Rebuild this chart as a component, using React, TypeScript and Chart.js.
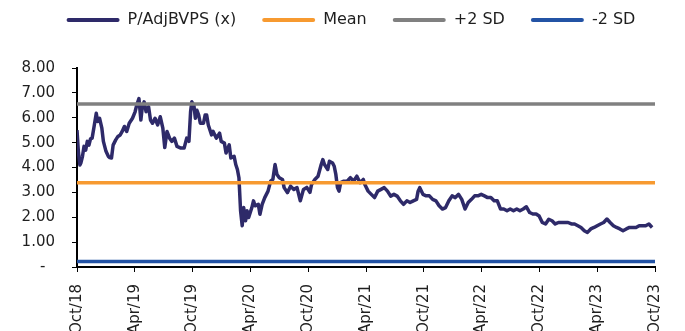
import React, { useEffect, useRef } from "react";
import { Chart, registerables } from "chart.js";

Chart.register(...registerables);

// x positions: months since Oct/18
const monthOffsets: number[] = [
  0, 0.15, 0.3, 0.4, 0.57, 0.73, 0.9, 1.07, 1.24, 1.4, 1.57, 1.8, 2.0, 2.14, 2.34, 2.58, 2.74, 3.01, 3.25, 3.4, 3.58, 3.75, 4.02, 4.25, 4.49, 4.69, 4.92, 5.16, 5.42, 5.76, 6.03, 6.2, 6.43, 6.63, 6.76, 6.97, 7.17, 7.43, 7.63, 7.84, 8.1, 8.37, 8.64, 8.91, 9.11, 9.34, 9.61, 9.85, 10.11, 10.38, 10.78, 11.12, 11.39, 11.62, 11.79, 11.92,
  12.13, 12.29, 12.45, 12.63, 12.8, 13.13, 13.3, 13.46, 13.63, 13.97, 14.13, 14.47, 14.8, 14.97, 15.3, 15.47, 15.8, 15.97, 16.31, 16.48, 16.65, 16.81, 16.88, 16.98, 17.15, 17.3, 17.5, 17.65, 17.82, 18.15, 18.32, 18.49, 18.82, 18.99, 19.22, 19.49, 19.83, 20.1, 20.33, 20.56, 20.76, 21.0, 21.33, 21.5, 21.84, 22.17, 22.51, 22.84, 23.18, 23.51, 23.85,
  24.18, 24.35, 24.69, 25.02, 25.35, 25.52, 25.69, 26.03, 26.2, 26.53, 26.7, 26.87, 27.04, 27.2, 27.37, 27.7, 28.04, 28.38, 28.71, 29.05, 29.38, 29.72, 29.88, 30.22, 30.55, 30.89, 31.22, 31.56, 31.89, 32.23, 32.56, 32.9, 33.23, 33.57, 33.9, 34.24, 34.57, 34.91, 35.25, 35.41, 35.58, 35.91,
  36.25, 36.58, 36.92, 37.26, 37.59, 37.93, 38.26, 38.6, 38.94, 39.27, 39.61, 39.94, 40.28, 40.61, 40.95, 41.28, 41.62, 41.96, 42.29, 42.63, 42.96, 43.3, 43.63, 43.97, 44.3, 44.64, 44.97, 45.31, 45.65, 45.98, 46.32, 46.65, 46.99, 47.32, 47.66,
  47.97, 48.3, 48.64, 48.97, 49.31, 49.64, 49.98, 50.31, 50.65, 50.98, 51.32, 51.65, 51.99, 52.32, 52.66, 52.99, 53.33, 53.67, 54.0, 54.34, 54.67, 55.01, 55.34, 55.68, 56.01, 56.35, 56.68, 57.02, 57.35, 57.69, 58.03, 58.36, 58.7, 59.03, 59.37, 59.7,
];

const pbValues: number[] = [
  5.5, 4.6, 4.1, 4.18, 4.45, 4.85, 4.7, 5.05, 4.9, 5.15, 5.18, 5.71, 6.18, 5.85, 5.98, 5.58, 5.05, 4.65, 4.45, 4.4, 4.38, 4.9, 5.11, 5.25, 5.31, 5.45, 5.65, 5.45, 5.78, 5.98, 6.24, 6.51, 6.77, 5.91, 6.37, 6.64, 6.24, 6.44, 5.91, 5.78, 5.98, 5.71, 6.04, 5.58, 4.8, 5.45, 5.18, 5.05, 5.18, 4.85, 4.78, 4.78, 5.18, 5.05, 6.24, 6.64,
  6.51, 5.98, 6.3, 6.11, 5.78, 5.78, 6.11, 6.11, 5.71, 5.31, 5.45, 5.18, 5.38, 5.05, 4.98, 4.58, 4.91, 4.38, 4.45, 4.12, 3.92, 3.59, 3.05, 2.26, 1.66, 2.39, 1.86, 2.26, 1.99, 2.39, 2.66, 2.46, 2.52, 2.12, 2.52, 2.79, 3.05, 3.45, 3.52, 4.12, 3.72, 3.59, 3.52, 3.19, 2.99, 3.25, 3.12, 3.19, 2.66, 3.12, 3.2,
  3.0, 3.32, 3.52, 3.65, 4.12, 4.32, 4.12, 3.92, 4.25, 4.18, 4.05, 3.72, 3.19, 3.05, 3.39, 3.45, 3.45, 3.59, 3.45, 3.65, 3.39, 3.52, 3.32, 3.05, 2.92, 2.79, 3.05, 3.12, 3.19, 3.05, 2.85, 2.92, 2.85, 2.66, 2.52, 2.66, 2.59, 2.66, 2.72, 3.05, 3.19, 2.92,
  2.86, 2.86, 2.72, 2.66, 2.46, 2.33, 2.39, 2.66, 2.86, 2.79, 2.92, 2.72, 2.33, 2.59, 2.72, 2.86, 2.86, 2.92, 2.86, 2.79, 2.79, 2.66, 2.66, 2.33, 2.33, 2.26, 2.33, 2.26, 2.33, 2.26, 2.33, 2.42, 2.19, 2.13, 2.13,
  2.05, 1.79, 1.73, 1.92, 1.86, 1.73, 1.79, 1.79, 1.79, 1.79, 1.73, 1.73, 1.66, 1.59, 1.46, 1.39, 1.53, 1.59, 1.66, 1.73, 1.79, 1.93, 1.79, 1.66, 1.59, 1.53, 1.46, 1.53, 1.59, 1.59, 1.59, 1.66, 1.66, 1.66, 1.73, 1.59,
];

const seriesNames: string[] = ["P/AdjBVPS (x)", "Mean", "+2 SD", "-2 SD"];
const bandValues: number[] = [3.39, 6.55, 0.22]; // Mean, +2 SD, -2 SD
const bandSpan: number[] = [0, 60];
const tickLabels: string[] = [
  "Oct/18", "Apr/19", "Oct/19", "Apr/20", "Oct/20", "Apr/21",
  "Oct/21", "Apr/22", "Oct/22", "Apr/23", "Oct/23",
];
const yTicks: number[] = [0, 1, 2, 3, 4, 5, 6, 7, 8];

const COLORS = ["#2e2a69", "#f79a30", "#808080", "#2353a5"];
const FONT = "'DejaVu Sans', Verdana, sans-serif";
const TEXT = "#1f1f1f";

export default function App() {
  const ref = useRef<HTMLCanvasElement | null>(null);

  useEffect(() => {
    document.body.style.margin = "0";
    document.documentElement.style.overflow = "hidden";
    const canvas = ref.current;
    if (!canvas) return;

    const mainData = monthOffsets.map((m, i) => ({ x: m, y: pbValues[i] }));
    const bandDatasets = bandValues.map((v, i) => ({
      label: seriesNames[i + 1],
      data: bandSpan.map((m) => ({ x: m, y: v })),
      borderColor: COLORS[i + 1],
      backgroundColor: COLORS[i + 1],
      borderWidth: 3.5,
      pointRadius: 0,
      borderCapStyle: "round" as const,
      order: 0,
    }));

    const legendSpacing = {
      id: "legendSpacing",
      beforeInit(chart: any) {
        const lg = chart.legend;
        if (!lg) return;
        const origFit = lg.fit;
        lg.fit = function () {
          origFit.call(this);
          this.height += 30;
        };
        const origDraw = lg.draw;
        lg.draw = function (...args: any[]) {
          this.ctx.save();
          this.ctx.translate(14, 0);
          origDraw.apply(this, args);
          this.ctx.restore();
        };
      },
    };

    const chart = new Chart(canvas, {
      type: "line",
      data: {
        datasets: [
          {
            label: seriesNames[0],
            data: mainData,
            borderColor: COLORS[0],
            backgroundColor: COLORS[0],
            borderWidth: 3.5,
            pointRadius: 0,
            tension: 0,
            borderJoinStyle: "round",
            order: 1,
          },
          ...bandDatasets,
        ],
      },
      options: {
        animation: false,
        responsive: false,
        devicePixelRatio: 1,
        parsing: false as any,
        layout: { padding: { top: -14, left: 0, right: 11, bottom: 0 } },
        plugins: {
          tooltip: { enabled: false },
          legend: {
            position: "top",
            labels: {
              font: { family: FONT, size: 16 },
              color: TEXT,
              boxWidth: 53,
              boxHeight: 4,
              padding: 26,
              sort: (a: any, b: any) => a.datasetIndex - b.datasetIndex,
              generateLabels: (ch: any) =>
                ch.data.datasets.map((ds: any, i: number) => ({
                  text: ds.label,
                  fillStyle: ds.borderColor,
                  strokeStyle: ds.borderColor,
                  lineWidth: 0,
                  hidden: false,
                  datasetIndex: i,
                  fontColor: TEXT,
                  borderRadius: 2,
                })),
            },
          },
        },
        scales: {
          x: {
            type: "linear",
            min: 0,
            max: 60,
            afterBuildTicks: (s: any) => {
              s.ticks = tickLabels.map((_, i) => ({ value: i * 6 }));
            },
            afterFit: (s: any) => {
              s.height = 93;
            },
            ticks: {
              autoSkip: false,
              maxRotation: 90,
              minRotation: 90,
              padding: 12,
              color: TEXT,
              font: { family: FONT, size: 15 },
              callback: (v: any) => tickLabels[Math.round(Number(v) / 6)] ?? "",
            },
            grid: {
              display: true,
              drawOnChartArea: false,
              drawTicks: true,
              tickLength: 5,
              color: "#000",
              tickColor: "#000",
              lineWidth: 1,
            },
            border: { display: true, color: "#000", width: 2 },
          },
          y: {
            type: "linear",
            min: 0,
            max: 8,
            afterBuildTicks: (s: any) => {
              s.ticks = yTicks.map((v) => ({ value: v }));
            },
            afterFit: (s: any) => {
              s.width = 77;
            },
            ticks: {
              padding: 17,
              color: TEXT,
              font: { family: FONT, size: 15 },
              callback: (v: any) => (Number(v) === 0 ? "-  " : Number(v).toFixed(2)),
            },
            grid: {
              display: true,
              drawOnChartArea: false,
              drawTicks: true,
              tickLength: 5,
              color: "#000",
              tickColor: "#000",
              lineWidth: 1,
            },
            border: { display: true, color: "#000", width: 2 },
          },
        },
      },
      plugins: [legendSpacing],
    } as any);

    return () => {
      chart.destroy();
    };
  }, []);

  return (
    <div style={{ width: 685, height: 331, overflow: "hidden", background: "#fff" }}>
      <canvas ref={ref} width={685} height={360} style={{ display: "block", width: 685, height: 360 }} />
    </div>
  );
}
